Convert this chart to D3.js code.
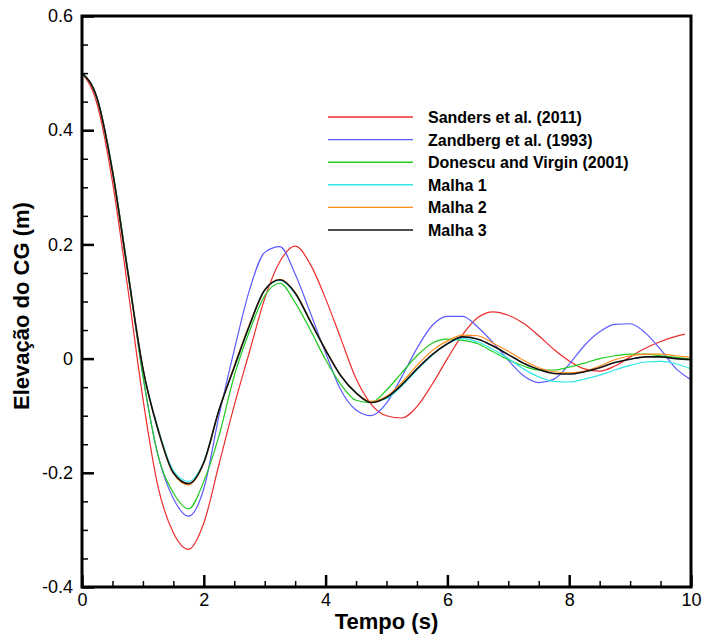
<!DOCTYPE html>
<html>
<head>
<meta charset="utf-8">
<script src="https://cdn.jsdelivr.net/npm/d3@7"></script>
<style>
  html, body { margin: 0; padding: 0; background: #fff; }
  svg { display: block; font-family: Arial, "Liberation Sans", sans-serif; }
</style>
</head>
<body>
<svg id="chart" width="702" height="637"></svg>
<script>
// Time samples (s)
const tempo = [0, 0.25, 0.5, 0.75, 1, 1.25, 1.5, 1.75, 2, 2.25, 2.5, 2.75, 3, 3.25, 3.5, 3.75,
  4, 4.25, 4.5, 4.75, 5, 5.25, 5.5, 5.75, 6, 6.25, 6.5, 6.75, 7, 7.25, 7.5, 7.75,
  8, 8.25, 8.5, 8.75, 9, 9.25, 9.5, 9.75, 10];
// Sanders et al. record stops slightly before 10 s
const tempoSanders = [0, 0.25, 0.5, 0.75, 1, 1.25, 1.5, 1.75, 2, 2.25, 2.5, 2.75, 3, 3.25, 3.5, 3.75,
  4, 4.25, 4.5, 4.75, 5, 5.25, 5.5, 5.75, 6, 6.25, 6.5, 6.75, 7, 7.25, 7.5, 7.75,
  8, 8.25, 8.5, 8.75, 9, 9.25, 9.5, 9.75, 9.9];

// Vertical position of the centre of gravity (m)
const sanders = [0.5, 0.445, 0.31, 0.125, -0.07, -0.225, -0.305, -0.334, -0.288, -0.185, -0.082, 0.012,
  0.105, 0.17, 0.197, 0.165, 0.105, 0.035, -0.035, -0.08, -0.1, -0.104, -0.084, -0.045, 0.0,
  0.042, 0.072, 0.082, 0.076, 0.062, 0.04, 0.016, -0.004, -0.018, -0.022, -0.013, 0.003,
  0.018, 0.03, 0.039, 0.043];
const zandberg = [0.5, 0.455, 0.33, 0.155, -0.03, -0.17, -0.245, -0.276, -0.228, -0.1, 0.015, 0.12,
  0.186, 0.196, 0.148, 0.08, 0.01, -0.055, -0.09, -0.1, -0.078, -0.032, 0.018, 0.058, 0.074,
  0.074, 0.055, 0.028, -0.003, -0.03, -0.042, -0.036, -0.01, 0.023, 0.047, 0.06, 0.061,
  0.045, 0.016, -0.017, -0.037];
const donescu = [0.5, 0.455, 0.33, 0.157, -0.03, -0.17, -0.235, -0.263, -0.215, -0.135, -0.03, 0.048,
  0.11, 0.132, 0.098, 0.05, -0.002, -0.045, -0.073, -0.077, -0.055, -0.025, 0.005, 0.027, 0.034,
  0.032, 0.026, 0.012, -0.002, -0.013, -0.02, -0.02, -0.015, -0.008, 0.0, 0.005, 0.008,
  0.008, 0.005, 0.002, -0.001];
const malha1 = [0.5, 0.455, 0.328, 0.153, -0.017, -0.122, -0.196, -0.215, -0.18, -0.09, -0.015, 0.058,
  0.12, 0.137, 0.114, 0.065, 0.015, -0.03, -0.06, -0.076, -0.07, -0.048, -0.02, 0.006, 0.026,
  0.035, 0.029, 0.016, 0.0, -0.018, -0.032, -0.04, -0.041, -0.036, -0.029, -0.02, -0.012,
  -0.006, -0.005, -0.009, -0.018];
const malha2 = [0.5, 0.455, 0.328, 0.153, -0.017, -0.125, -0.201, -0.221, -0.183, -0.09, -0.013, 0.06,
  0.12, 0.139, 0.116, 0.066, 0.016, -0.03, -0.06, -0.075, -0.066, -0.042, -0.012, 0.014, 0.031,
  0.041, 0.04, 0.027, 0.013, -0.003, -0.016, -0.023, -0.025, -0.022, -0.013, -0.002, 0.005,
  0.008, 0.008, 0.005, 0.002];
const malha3 = [0.5, 0.455, 0.328, 0.153, -0.017, -0.125, -0.2, -0.219, -0.182, -0.09, -0.015, 0.058,
  0.12, 0.138, 0.115, 0.065, 0.015, -0.03, -0.06, -0.077, -0.068, -0.046, -0.018, 0.007, 0.026,
  0.038, 0.034, 0.022, 0.007, -0.008, -0.019, -0.026, -0.027, -0.023, -0.016, -0.007, -0.001,
  0.003, 0.003, 0.0, -0.002];

const seriesNames = ["Sanders et al. (2011)", "Zandberg et al. (1993)", "Donescu and Virgin (2001)",
  "Malha 1", "Malha 2", "Malha 3"];
const seriesColors = ["#ee2b2b", "#5b5bff", "#1ecb1e", "#2ee8e8", "#ff8c1a", "#111111"];

const xTicks = [0, 2, 4, 6, 8, 10];
const xTickLabels = ["0", "2", "4", "6", "8", "10"];
const yTicks = [-0.4, -0.2, 0, 0.2, 0.4, 0.6];
const yTickLabels = ["-0.4", "-0.2", "0", "0.2", "0.4", "0.6"];
const xMinor = d3.range(0, 10.001, 0.5).filter(v => Math.abs(v % 2) > 1e-6);
const yMinor = d3.range(-0.4, 0.6001, 0.05).map(v => +v.toFixed(2))
  .filter(v => !yTicks.some(t => Math.abs(t - v) < 1e-6));

const series = [
  { x: tempoSanders, y: sanders },
  { x: tempo, y: zandberg },
  { x: tempo, y: donescu },
  { x: tempo, y: malha1 },
  { x: tempo, y: malha2 },
  { x: tempo, y: malha3 }
].map((s, i) => ({ name: seriesNames[i], color: seriesColors[i],
  pts: s.x.map((t, k) => [t, s.y[k]]) }));

const plot = { left: 82, right: 691, top: 16, bottom: 587 };
const svg = d3.select("#chart");

const x = d3.scaleLinear().domain([0, 10]).range([plot.left, plot.right]);
const y = d3.scaleLinear().domain([-0.4, 0.6]).range([plot.bottom, plot.top]);

// Curves, clipped to the plotting frame
svg.append("clipPath").attr("id", "clip").append("rect")
  .attr("x", plot.left).attr("y", plot.top)
  .attr("width", plot.right - plot.left).attr("height", plot.bottom - plot.top);

const line = d3.line().x(d => x(d[0])).y(d => y(d[1])).curve(d3.curveMonotoneX);
svg.append("g").attr("clip-path", "url(#clip)")
  .selectAll("path").data(series).join("path")
  .attr("d", d => line(d.pts))
  .attr("fill", "none")
  .attr("stroke", d => d.color)
  .attr("stroke-width", (d, i) => i === 5 ? 1.6 : 1.2);

// Minor ticks (inside)
const xMinorAxis = d3.axisBottom(x).tickValues(xMinor).tickSize(-6).tickFormat("");
const yMinorAxis = d3.axisLeft(y).tickValues(yMinor).tickSize(-6).tickFormat("");
[svg.append("g").attr("transform", `translate(0,${plot.bottom})`).call(xMinorAxis),
 svg.append("g").attr("transform", `translate(${plot.left},0)`).call(yMinorAxis)]
  .forEach(g => {
    g.select(".domain").remove();
    g.selectAll("line").attr("stroke", "#000").attr("stroke-width", 1.5);
  });

// Major ticks and labels
const xAxis = d3.axisBottom(x).tickValues(xTicks).tickSize(-12).tickPadding(6)
  .tickFormat((d, i) => xTickLabels[i]);
const yAxis = d3.axisLeft(y).tickValues(yTicks).tickSize(-12).tickPadding(9)
  .tickFormat((d, i) => yTickLabels[i]);
const gx = svg.append("g").attr("transform", `translate(0,${plot.bottom})`).call(xAxis);
const gy = svg.append("g").attr("transform", `translate(${plot.left},0)`).call(yAxis);
[gx, gy].forEach(g => {
  g.select(".domain").remove();
  g.selectAll("line").attr("stroke", "#000").attr("stroke-width", 2.5);
  g.selectAll("text").attr("fill", "#000").attr("font-size", 18)
    .attr("font-family", "Arial, 'Liberation Sans', sans-serif");
});

// Frame
svg.append("rect")
  .attr("x", plot.left).attr("y", plot.top)
  .attr("width", plot.right - plot.left).attr("height", plot.bottom - plot.top)
  .attr("fill", "none").attr("stroke", "#000").attr("stroke-width", 3);

// Axis titles
svg.append("text")
  .attr("x", (plot.left + plot.right) / 2).attr("y", 629)
  .attr("text-anchor", "middle").attr("font-size", 22).attr("font-weight", "bold")
  .text("Tempo (s)");
svg.append("text")
  .attr("transform", "translate(29,306) rotate(-90)")
  .attr("text-anchor", "middle").attr("font-size", 22).attr("font-weight", "bold")
  .text("Elevação do CG (m)");

// Legend
const legend = svg.append("g").attr("transform", "translate(328,117)");
const rows = legend.selectAll("g").data(series).join("g")
  .attr("transform", (d, i) => `translate(0,${i * 22.6})`);
rows.append("line").attr("x1", 0).attr("x2", 85).attr("y1", 0).attr("y2", 0)
  .attr("stroke", d => d.color).attr("stroke-width", (d, i) => i === 5 ? 1.6 : 1.4);
rows.append("text").attr("x", 100).attr("y", 6)
  .attr("font-size", 16).attr("font-weight", "bold").attr("fill", "#000")
  .text(d => d.name);
</script>
</body>
</html>
